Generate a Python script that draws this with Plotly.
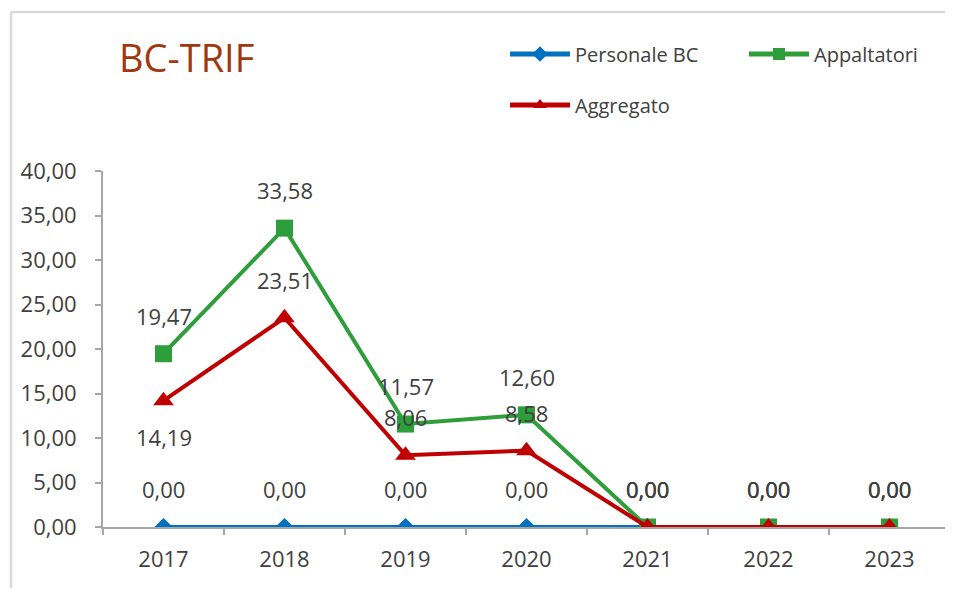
import plotly.graph_objects as go

years = ["2017", "2018", "2019", "2020", "2021", "2022", "2023"]
personale_bc = [0.00, 0.00, 0.00, 0.00, 0.00, 0.00, 0.00]
appaltatori = [19.47, 33.58, 11.57, 12.60, 0.00, 0.00, 0.00]
aggregato = [14.19, 23.51, 8.06, 8.58, 0.00, 0.00, 0.00]
y_ticks = [0, 5, 10, 15, 20, 25, 30, 35, 40]

BLUE = "#0070C0"
GREEN = "#2E9E3A"
RED = "#C00000"
TXT = "#404040"
FONT = "Open Sans"
FS = 22

W, H = 945, 580
L, R, T, B = 95, 3, 163, 61
PW = W - L - R
PH = H - T - B

fig = go.Figure()
fig.add_trace(go.Scatter(x=years, y=personale_bc, name="Personale BC", mode="lines+markers",
                         line=dict(color=BLUE, width=4),
                         marker=dict(symbol="diamond", size=14, color=BLUE), legend="legend"))
fig.add_trace(go.Scatter(x=years, y=appaltatori, name="Appaltatori", mode="lines+markers",
                         line=dict(color=GREEN, width=4),
                         marker=dict(symbol="square", size=17, color=GREEN), legend="legend2"))
fig.add_trace(go.Scatter(x=years, y=aggregato, name="Aggregato", mode="lines+markers",
                         line=dict(color=RED, width=4),
                         marker=dict(symbol="triangle-up", size=18, color=RED), legend="legend3"))


def fmt(v):
    return f"{v:.2f}".replace(".", ",")


def px(xp):
    return (xp - L) / PW


def py(yp):
    return (T + PH - yp) / PH


annotations = []
agg_dirs = [-1, 1, 1, 1, 1, 1, 1]
for vals, dirs in [(personale_bc, [1] * 7), (appaltatori, [1] * 7), (aggregato, agg_dirs)]:
    for i, v in enumerate(vals):
        annotations.append(dict(x=i, y=v, xref="x", yref="y", text=fmt(v), showarrow=False,
                                yshift=(38 if dirs[i] > 0 else -36),
                                font=dict(family=FONT, size=FS, color=TXT)))

annotations.append(dict(x=px(109), y=py(49.5), xref="paper", yref="paper", text="BC-TRIF",
                        showarrow=False, xanchor="left", yanchor="middle",
                        font=dict(family=FONT, size=38, color="#A0380E")))

leg_common = dict(orientation="h", xanchor="left", yanchor="middle", itemwidth=60,
                  itemsizing="constant",
                  font=dict(family=FONT, size=20, color=TXT), bgcolor="rgba(0,0,0,0)",
                  borderwidth=0)

frame = dict(color="#D9D9D9", width=2.5)

fig.update_layout(
    width=W, height=H,
    paper_bgcolor="white", plot_bgcolor="white",
    margin=dict(l=L, r=R, t=T, b=B),
    font=dict(family=FONT, size=FS, color=TXT),
    showlegend=True,
    legend=dict(x=px(497), y=py(46), **leg_common),
    legend2=dict(x=px(736), y=py(46), **leg_common),
    legend3=dict(x=px(497), y=py(97), **leg_common),
    annotations=annotations,
    shapes=[
        dict(type="line", xref="paper", yref="paper", x0=px(3), x1=px(W + 20),
             y0=py(4), y1=py(4), line=frame, layer="below"),
        dict(type="line", xref="paper", yref="paper", x0=px(3), x1=px(3),
             y0=py(4), y1=py(H + 20), line=frame, layer="below"),
    ],
    xaxis=dict(type="category", range=[-0.5, 6.5], showgrid=False, showline=True,
               linecolor="#A6A6A6", linewidth=2, ticks="outside", tickson="boundaries",
               tickcolor="#A6A6A6", ticklen=6, tickwidth=2, ticklabelstandoff=12,
               tickfont=dict(family=FONT, size=FS, color=TXT)),
    yaxis=dict(range=[0, 40], tickvals=y_ticks, ticktext=[fmt(v) for v in y_ticks],
               showgrid=False, showline=True, zeroline=False, linecolor="#A6A6A6", linewidth=2,
               ticks="outside", tickcolor="#A6A6A6", ticklen=6, tickwidth=2, ticklabelstandoff=14,
               tickfont=dict(family=FONT, size=FS, color=TXT)),
)

fig.write_html("out.html")
